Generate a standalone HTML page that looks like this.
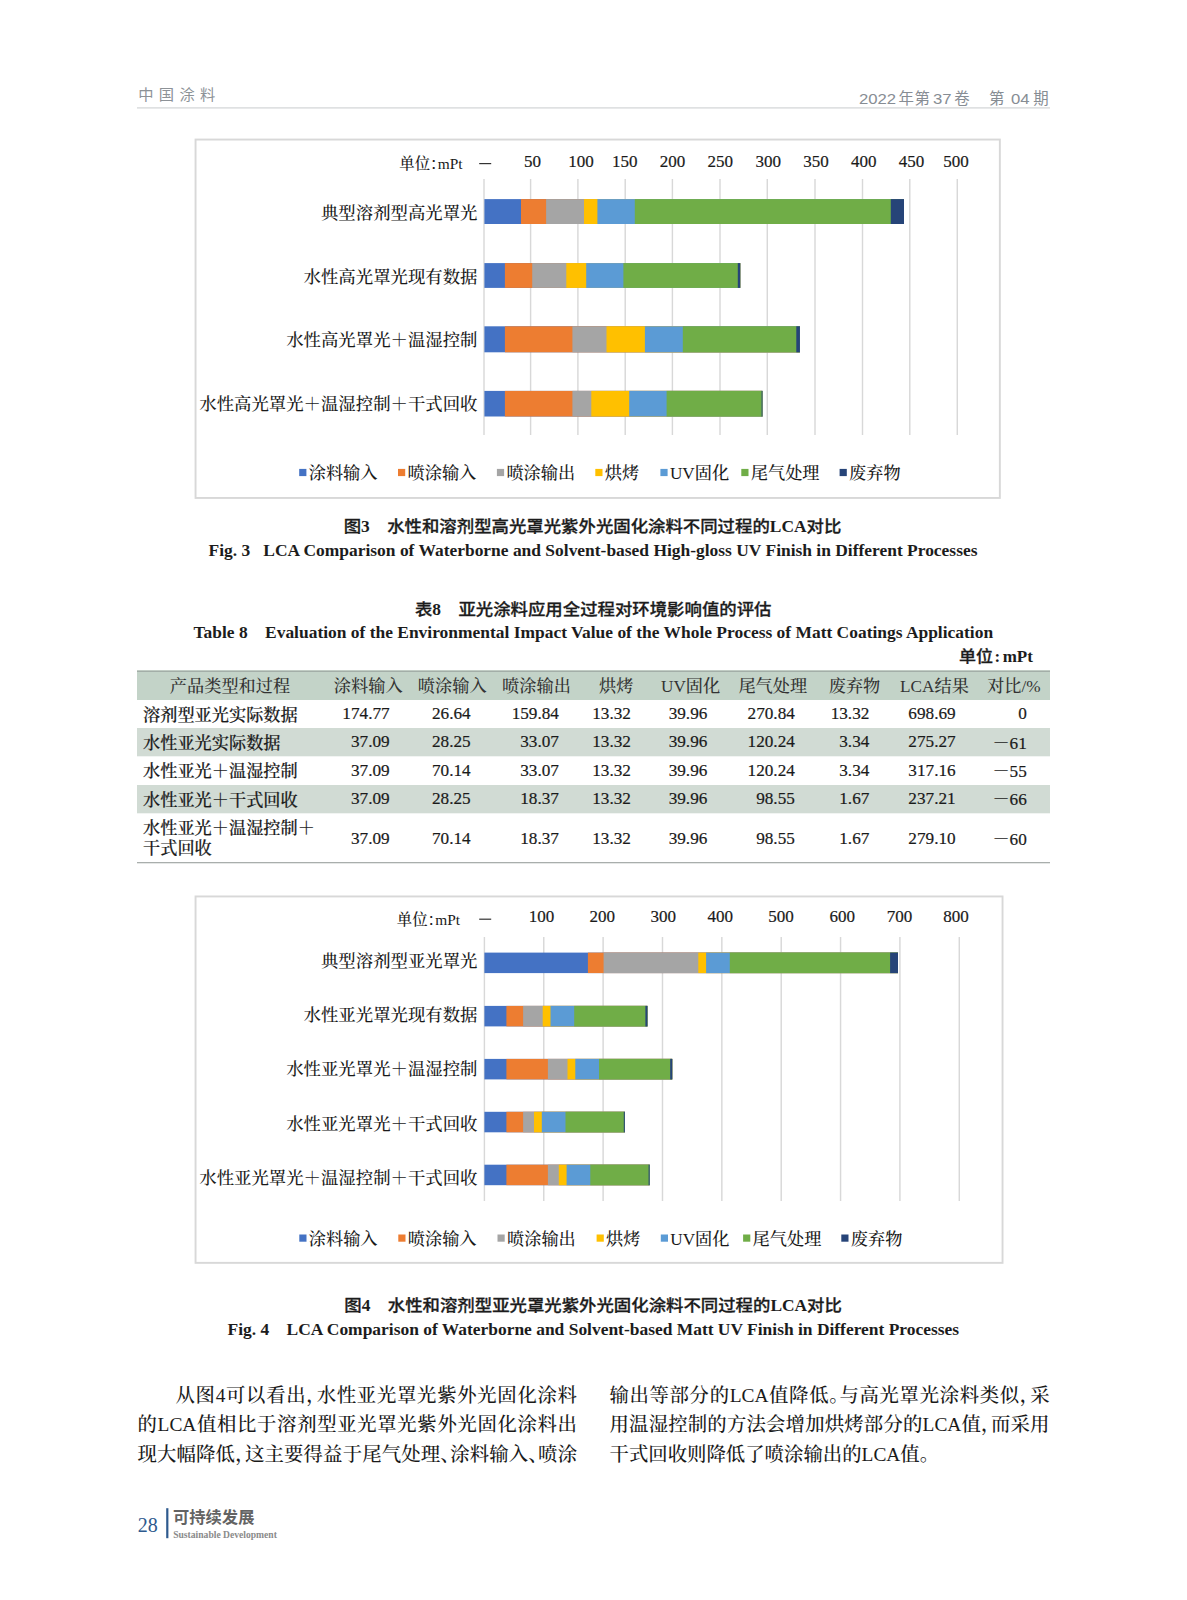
<!DOCTYPE html>
<html lang="zh-CN">
<head>
<meta charset="utf-8">
<title>中国涂料 2022年第37卷 第04期</title>
<style>
*{margin:0;padding:0;box-sizing:border-box}
html,body{width:1187px;height:1600px;background:#fff;overflow:hidden}
body{position:relative;font-family:"Liberation Serif","Noto Serif CJK SC",serif;color:#1a1a1a}
.gfx{position:absolute;left:0;top:0}
.t{position:absolute;white-space:nowrap;line-height:1}
.b{position:absolute}
.sans{font-family:"Liberation Sans","Noto Sans CJK SC",sans-serif}
.cap-cn{font-family:"Liberation Serif","Noto Sans CJK SC",sans-serif;font-weight:700;font-size:17.4px;color:#1c1c1c}
.cap-en{font-family:"Liberation Serif",serif;font-weight:700;font-size:17.44px;color:#1c1c1c}
.cj{display:inline-block;font-weight:500;-webkit-text-stroke:.3px #1c1c1c;transform:scaleY(.93);transform-origin:50% 55%}
.lab{font-size:17.4px;font-weight:500;color:#1a1a1a}
.ax{font-size:17px;color:#1a1a1a;-webkit-text-stroke:.2px #1a1a1a;font-family:"Liberation Serif",serif}
.lg{font-size:17.2px;font-weight:500;color:#1a1a1a}
.td{font-size:17.2px;font-weight:500;color:#1a1a1a;-webkit-text-stroke:.2px #1a1a1a}
.th{font-size:17.2px;font-weight:500;color:#333}
.body{font-size:19.4px;color:#1a1a1a;font-weight:500}
.hp{font-feature-settings:"halt" 1}
.just{text-align:justify;text-align-last:justify;white-space:normal}
</style>
</head>
<body>
<svg class="gfx" width="1187" height="1600" viewBox="0 0 1187 1600">
<rect x="137" y="107.3" width="913" height="1.2" fill="#d2d4d6"/>
<rect x="195.55" y="139.55" width="804.3" height="358.4" fill="none" stroke="#d8d8d8" stroke-width="1.9"/>
<rect x="483.28" y="179" width="1.44" height="256" fill="#d8d8d8"/>
<rect x="529.88" y="179" width="1.44" height="256" fill="#d8d8d8"/>
<rect x="577.18" y="179" width="1.44" height="256" fill="#d8d8d8"/>
<rect x="624.48" y="179" width="1.44" height="256" fill="#d8d8d8"/>
<rect x="671.68" y="179" width="1.44" height="256" fill="#d8d8d8"/>
<rect x="719.28" y="179" width="1.44" height="256" fill="#d8d8d8"/>
<rect x="766.58" y="179" width="1.44" height="256" fill="#d8d8d8"/>
<rect x="814.28" y="179" width="1.44" height="256" fill="#d8d8d8"/>
<rect x="861.78" y="179" width="1.44" height="256" fill="#d8d8d8"/>
<rect x="909.08" y="179" width="1.44" height="256" fill="#d8d8d8"/>
<rect x="956.58" y="179" width="1.44" height="256" fill="#d8d8d8"/>
<rect x="479.2" y="163" width="12" height="1.2" fill="#333"/>
<rect x="484.4" y="199.1" width="419.6" height="24.9" fill="#4472c4"/>
<rect x="521" y="199.1" width="383" height="24.9" fill="#ed7d31"/>
<rect x="546.1" y="199.1" width="357.9" height="24.9" fill="#a5a5a5"/>
<rect x="584" y="199.1" width="320" height="24.9" fill="#ffc000"/>
<rect x="597.4" y="199.1" width="306.6" height="24.9" fill="#5b9bd5"/>
<rect x="634.8" y="199.1" width="269.2" height="24.9" fill="#70ad47"/>
<rect x="890.8" y="199.1" width="13.2" height="24.9" fill="#264478"/>
<rect x="484.4" y="263.1" width="255.8" height="24.8" fill="#4472c4"/>
<rect x="504.9" y="263.1" width="235.3" height="24.8" fill="#ed7d31"/>
<rect x="532.2" y="263.1" width="208" height="24.8" fill="#a5a5a5"/>
<rect x="566.3" y="263.1" width="173.9" height="24.8" fill="#ffc000"/>
<rect x="586.2" y="263.1" width="154" height="24.8" fill="#5b9bd5"/>
<rect x="623.4" y="263.1" width="116.8" height="24.8" fill="#70ad47"/>
<rect x="737.8" y="263.1" width="2.4" height="24.8" fill="#264478"/>
<rect x="484.4" y="326.3" width="315.5" height="26" fill="#4472c4"/>
<rect x="504.9" y="326.3" width="295" height="26" fill="#ed7d31"/>
<rect x="572.4" y="326.3" width="227.5" height="26" fill="#a5a5a5"/>
<rect x="606.5" y="326.3" width="193.4" height="26" fill="#ffc000"/>
<rect x="644.9" y="326.3" width="155" height="26" fill="#5b9bd5"/>
<rect x="682.8" y="326.3" width="117.1" height="26" fill="#70ad47"/>
<rect x="796.3" y="326.3" width="3.6" height="26" fill="#264478"/>
<rect x="484.4" y="390.9" width="278" height="25.6" fill="#4472c4"/>
<rect x="504.9" y="390.9" width="257.5" height="25.6" fill="#ed7d31"/>
<rect x="572.4" y="390.9" width="190" height="25.6" fill="#a5a5a5"/>
<rect x="591.3" y="390.9" width="171.1" height="25.6" fill="#ffc000"/>
<rect x="629.2" y="390.9" width="133.2" height="25.6" fill="#5b9bd5"/>
<rect x="666.6" y="390.9" width="95.8" height="25.6" fill="#70ad47"/>
<rect x="761.6" y="390.9" width="0.8" height="25.6" fill="#264478"/>
<rect x="299.2" y="468.9" width="7.2" height="7.2" fill="#4472c4"/>
<rect x="398" y="468.9" width="7.2" height="7.2" fill="#ed7d31"/>
<rect x="496.9" y="468.9" width="7.2" height="7.2" fill="#a5a5a5"/>
<rect x="595.3" y="468.9" width="7.2" height="7.2" fill="#ffc000"/>
<rect x="660.4" y="468.9" width="7.2" height="7.2" fill="#5b9bd5"/>
<rect x="741.3" y="468.9" width="7.2" height="7.2" fill="#70ad47"/>
<rect x="839.6" y="468.9" width="7.2" height="7.2" fill="#264478"/>
<rect x="137" y="670.3" width="913" height="29.7" fill="#c3d3c8"/>
<rect x="137" y="670.6" width="913" height="1.4" fill="#a3aea8"/>
<rect x="137" y="728" width="913" height="28.3" fill="#d1dbd4"/>
<rect x="137" y="785" width="913" height="28.3" fill="#d1dbd4"/>
<rect x="137" y="862" width="913" height="1.3" fill="#a9aeac"/>
<rect x="195.55" y="896.45" width="807" height="366.4" fill="none" stroke="#d8d8d8" stroke-width="1.9"/>
<rect x="483.68" y="937" width="1.44" height="264" fill="#d8d8d8"/>
<rect x="543.04" y="937" width="1.44" height="264" fill="#d8d8d8"/>
<rect x="602.4" y="937" width="1.44" height="264" fill="#d8d8d8"/>
<rect x="661.76" y="937" width="1.44" height="264" fill="#d8d8d8"/>
<rect x="721.12" y="937" width="1.44" height="264" fill="#d8d8d8"/>
<rect x="780.48" y="937" width="1.44" height="264" fill="#d8d8d8"/>
<rect x="839.84" y="937" width="1.44" height="264" fill="#d8d8d8"/>
<rect x="899.2" y="937" width="1.44" height="264" fill="#d8d8d8"/>
<rect x="958.56" y="937" width="1.44" height="264" fill="#d8d8d8"/>
<rect x="479.2" y="918.6" width="12" height="1.2" fill="#333"/>
<rect x="484.4" y="952.6" width="413.6" height="20.5" fill="#4472c4"/>
<rect x="587.9" y="952.6" width="310.1" height="20.5" fill="#ed7d31"/>
<rect x="603.6" y="952.6" width="294.4" height="20.5" fill="#a5a5a5"/>
<rect x="698.3" y="952.6" width="199.7" height="20.5" fill="#ffc000"/>
<rect x="706.1" y="952.6" width="191.9" height="20.5" fill="#5b9bd5"/>
<rect x="729.8" y="952.6" width="168.2" height="20.5" fill="#70ad47"/>
<rect x="890.1" y="952.6" width="7.9" height="20.5" fill="#264478"/>
<rect x="484.4" y="1005.9" width="163" height="20.5" fill="#4472c4"/>
<rect x="506.4" y="1005.9" width="141" height="20.5" fill="#ed7d31"/>
<rect x="523.1" y="1005.9" width="124.3" height="20.5" fill="#a5a5a5"/>
<rect x="542.7" y="1005.9" width="104.7" height="20.5" fill="#ffc000"/>
<rect x="550.5" y="1005.9" width="96.9" height="20.5" fill="#5b9bd5"/>
<rect x="574.2" y="1005.9" width="73.2" height="20.5" fill="#70ad47"/>
<rect x="645.4" y="1005.9" width="2" height="20.5" fill="#264478"/>
<rect x="484.4" y="1058.9" width="187.8" height="20.5" fill="#4472c4"/>
<rect x="506.4" y="1058.9" width="165.8" height="20.5" fill="#ed7d31"/>
<rect x="547.9" y="1058.9" width="124.3" height="20.5" fill="#a5a5a5"/>
<rect x="567.5" y="1058.9" width="104.7" height="20.5" fill="#ffc000"/>
<rect x="575.3" y="1058.9" width="96.9" height="20.5" fill="#5b9bd5"/>
<rect x="599" y="1058.9" width="73.2" height="20.5" fill="#70ad47"/>
<rect x="670.2" y="1058.9" width="2" height="20.5" fill="#264478"/>
<rect x="484.4" y="1111.8" width="140.4" height="20.5" fill="#4472c4"/>
<rect x="506.4" y="1111.8" width="118.4" height="20.5" fill="#ed7d31"/>
<rect x="523.1" y="1111.8" width="101.7" height="20.5" fill="#a5a5a5"/>
<rect x="534" y="1111.8" width="90.8" height="20.5" fill="#ffc000"/>
<rect x="541.8" y="1111.8" width="83" height="20.5" fill="#5b9bd5"/>
<rect x="565.5" y="1111.8" width="59.3" height="20.5" fill="#70ad47"/>
<rect x="623.8" y="1111.8" width="1" height="20.5" fill="#264478"/>
<rect x="484.4" y="1164.7" width="165.2" height="20.5" fill="#4472c4"/>
<rect x="506.4" y="1164.7" width="143.2" height="20.5" fill="#ed7d31"/>
<rect x="547.9" y="1164.7" width="101.7" height="20.5" fill="#a5a5a5"/>
<rect x="558.8" y="1164.7" width="90.8" height="20.5" fill="#ffc000"/>
<rect x="566.6" y="1164.7" width="83" height="20.5" fill="#5b9bd5"/>
<rect x="590.3" y="1164.7" width="59.3" height="20.5" fill="#70ad47"/>
<rect x="648.6" y="1164.7" width="1" height="20.5" fill="#264478"/>
<rect x="299.3" y="1234.5" width="7.2" height="7.2" fill="#4472c4"/>
<rect x="398.3" y="1234.5" width="7.2" height="7.2" fill="#ed7d31"/>
<rect x="497.5" y="1234.5" width="7.2" height="7.2" fill="#a5a5a5"/>
<rect x="596.6" y="1234.5" width="7.2" height="7.2" fill="#ffc000"/>
<rect x="660.8" y="1234.5" width="7.2" height="7.2" fill="#5b9bd5"/>
<rect x="743.1" y="1234.5" width="7.2" height="7.2" fill="#70ad47"/>
<rect x="841.3" y="1234.5" width="7.2" height="7.2" fill="#264478"/>
<rect x="166.2" y="1508.2" width="2.2" height="30" fill="#2e5a8e"/>
</svg>
<div class="t sans" style="font-size:15.3px;line-height:30px;height:30px;top:80.4px;left:138.2px;letter-spacing:5.3px;color:#8d9297;">中国涂料</div>
<div class="t sans" style="font-size:15.2px;line-height:30px;height:30px;top:83.5px;left:859.2px;color:#878d94;transform:scaleX(1.1);transform-origin:0 50%;">2022</div>
<div class="t sans" style="font-size:15.4px;line-height:30px;height:30px;top:83.5px;left:898.6px;color:#878d94;">年</div>
<div class="t sans" style="font-size:15.4px;line-height:30px;height:30px;top:83.5px;left:914.4px;color:#878d94;">第</div>
<div class="t sans" style="font-size:15.2px;line-height:30px;height:30px;top:83.5px;left:933px;color:#878d94;transform:scaleX(1.1);transform-origin:0 50%;">37</div>
<div class="t sans" style="font-size:15.4px;line-height:30px;height:30px;top:83.5px;left:954.2px;color:#878d94;">卷</div>
<div class="t sans" style="font-size:15.4px;line-height:30px;height:30px;top:83.5px;left:988.9px;color:#878d94;">第</div>
<div class="t sans" style="font-size:15.2px;line-height:30px;height:30px;top:83.5px;left:1010.7px;color:#878d94;transform:scaleX(1.1);transform-origin:0 50%;">04</div>
<div class="t sans" style="font-size:15.4px;line-height:30px;height:30px;top:83.5px;left:1033.3px;color:#878d94;">期</div>
<div class="t ax" style="line-height:30px;height:30px;top:146.5px;left:32.5px;width:1000px;text-align:center;">50</div>
<div class="t ax" style="line-height:30px;height:30px;top:146.5px;left:81px;width:1000px;text-align:center;">100</div>
<div class="t ax" style="line-height:30px;height:30px;top:146.5px;left:124.8px;width:1000px;text-align:center;">150</div>
<div class="t ax" style="line-height:30px;height:30px;top:146.5px;left:172.4px;width:1000px;text-align:center;">200</div>
<div class="t ax" style="line-height:30px;height:30px;top:146.5px;left:220.2px;width:1000px;text-align:center;">250</div>
<div class="t ax" style="line-height:30px;height:30px;top:146.5px;left:268.3px;width:1000px;text-align:center;">300</div>
<div class="t ax" style="line-height:30px;height:30px;top:146.5px;left:316px;width:1000px;text-align:center;">350</div>
<div class="t ax" style="line-height:30px;height:30px;top:146.5px;left:363.8px;width:1000px;text-align:center;">400</div>
<div class="t ax" style="line-height:30px;height:30px;top:146.5px;left:411.6px;width:1000px;text-align:center;">450</div>
<div class="t ax" style="line-height:30px;height:30px;top:146.5px;left:455.9px;width:1000px;text-align:center;">500</div>
<div class="t " style="font-size:15.4px;line-height:30px;height:30px;top:148.5px;left:399.3px;font-weight:500;"> 单位<span class="hp">：</span>mPt</div>
<div class="t lab" style="line-height:30px;height:30px;top:198px;right:709.5px;text-align:right;">典型溶剂型高光罩光</div>
<div class="t lab" style="line-height:30px;height:30px;top:261.6px;right:709.5px;text-align:right;">水性高光罩光现有数据</div>
<div class="t lab" style="line-height:30px;height:30px;top:325.2px;right:709.5px;text-align:right;">水性高光罩光＋温湿控制</div>
<div class="t lab" style="line-height:30px;height:30px;top:389.4px;right:709.5px;text-align:right;">水性高光罩光＋温湿控制＋干式回收</div>
<div class="t lg" style="line-height:30px;height:30px;top:459px;left:308.7px;">涂料输入</div>
<div class="t lg" style="line-height:30px;height:30px;top:459px;left:407.5px;">喷涂输入</div>
<div class="t lg" style="line-height:30px;height:30px;top:459px;left:506.4px;">喷涂输出</div>
<div class="t lg" style="line-height:30px;height:30px;top:459px;left:604.8px;">烘烤</div>
<div class="t lg" style="line-height:30px;height:30px;top:459px;left:669.9px;">UV固化</div>
<div class="t lg" style="line-height:30px;height:30px;top:459px;left:750.8px;">尾气处理</div>
<div class="t lg" style="line-height:30px;height:30px;top:459px;left:849.1px;">废弃物</div>
<div class="t cap-cn" style="line-height:30px;height:30px;top:511.3px;left:92.5px;width:1000px;text-align:center;"><span class="cj">图</span>3&emsp;<span class="cj">水性和溶剂型高光罩光紫外光固化涂料不同过程的</span>LCA<span class="cj">对比</span></div>
<div class="t cap-en" style="line-height:30px;height:30px;top:534.7px;left:93px;width:1000px;text-align:center;">Fig. 3&nbsp;&nbsp;&nbsp;LCA Comparison of Waterborne and Solvent-based High-gloss UV Finish in Different Processes</div>
<div class="t cap-cn" style="line-height:30px;height:30px;top:593.5px;left:93.2px;width:1000px;text-align:center;"><span class="cj">表</span>8&emsp;<span class="cj">亚光涂料应用全过程对环境影响值的评估</span></div>
<div class="t cap-en" style="line-height:30px;height:30px;top:617.2px;left:93.3px;width:1000px;text-align:center;">Table 8&nbsp;&nbsp;&nbsp;&nbsp;Evaluation of the Environmental Impact Value of the Whole Process of Matt Coatings Application</div>
<div class="t cap-cn" style="font-size:17px;line-height:30px;height:30px;top:642px;right:154.1px;text-align:right;"><span class="cj">单位</span><span style="margin:0 2.5px 0 1.5px">:</span>mPt</div>
<div class="t th" style="line-height:30px;height:30px;top:671.8px;left:-270px;width:1000px;text-align:center;">产品类型和过程</div>
<div class="t th" style="line-height:30px;height:30px;top:671.8px;left:-131.8px;width:1000px;text-align:center;">涂料输入</div>
<div class="t th" style="line-height:30px;height:30px;top:671.8px;left:-47.8px;width:1000px;text-align:center;">喷涂输入</div>
<div class="t th" style="line-height:30px;height:30px;top:671.8px;left:36.5px;width:1000px;text-align:center;">喷涂输出</div>
<div class="t th" style="line-height:30px;height:30px;top:671.8px;left:116.2px;width:1000px;text-align:center;">烘烤</div>
<div class="t th" style="line-height:30px;height:30px;top:671.8px;left:190.6px;width:1000px;text-align:center;">UV固化</div>
<div class="t th" style="line-height:30px;height:30px;top:671.8px;left:272.8px;width:1000px;text-align:center;">尾气处理</div>
<div class="t th" style="line-height:30px;height:30px;top:671.8px;left:354.5px;width:1000px;text-align:center;">废弃物</div>
<div class="t th" style="line-height:30px;height:30px;top:671.8px;left:434.5px;width:1000px;text-align:center;">LCA结果</div>
<div class="t th" style="line-height:30px;height:30px;top:671.8px;left:513.9px;width:1000px;text-align:center;">对比/%</div>
<div class="t td" style="line-height:30px;height:30px;top:700.7px;left:143px;">溶剂型亚光实际数据</div>
<div class="t td" style="line-height:30px;height:30px;top:699px;right:797.4px;text-align:right;">174.77</div>
<div class="t td" style="line-height:30px;height:30px;top:699px;right:716.4px;text-align:right;">26.64</div>
<div class="t td" style="line-height:30px;height:30px;top:699px;right:628.1px;text-align:right;">159.84</div>
<div class="t td" style="line-height:30px;height:30px;top:699px;right:556.1px;text-align:right;">13.32</div>
<div class="t td" style="line-height:30px;height:30px;top:699px;right:479.7px;text-align:right;">39.96</div>
<div class="t td" style="line-height:30px;height:30px;top:699px;right:392.2px;text-align:right;">270.84</div>
<div class="t td" style="line-height:30px;height:30px;top:699px;right:317.7px;text-align:right;">13.32</div>
<div class="t td" style="line-height:30px;height:30px;top:699px;right:231.4px;text-align:right;">698.69</div>
<div class="t td" style="line-height:30px;height:30px;top:699px;right:160.2px;text-align:right;">0</div>
<div class="t td" style="line-height:30px;height:30px;top:729px;left:143px;">水性亚光实际数据</div>
<div class="t td" style="line-height:30px;height:30px;top:727.3px;right:797.4px;text-align:right;">37.09</div>
<div class="t td" style="line-height:30px;height:30px;top:727.3px;right:716.4px;text-align:right;">28.25</div>
<div class="t td" style="line-height:30px;height:30px;top:727.3px;right:628.1px;text-align:right;">33.07</div>
<div class="t td" style="line-height:30px;height:30px;top:727.3px;right:556.1px;text-align:right;">13.32</div>
<div class="t td" style="line-height:30px;height:30px;top:727.3px;right:479.7px;text-align:right;">39.96</div>
<div class="t td" style="line-height:30px;height:30px;top:727.3px;right:392.2px;text-align:right;">120.24</div>
<div class="t td" style="line-height:30px;height:30px;top:727.3px;right:317.7px;text-align:right;">3.34</div>
<div class="t td" style="line-height:30px;height:30px;top:727.3px;right:231.4px;text-align:right;">275.27</div>
<div class="t td" style="line-height:30px;height:30px;top:728.5px;right:160.2px;text-align:right;">－61</div>
<div class="t td" style="line-height:30px;height:30px;top:757.3px;left:143px;">水性亚光＋温湿控制</div>
<div class="t td" style="line-height:30px;height:30px;top:755.6px;right:797.4px;text-align:right;">37.09</div>
<div class="t td" style="line-height:30px;height:30px;top:755.6px;right:716.4px;text-align:right;">70.14</div>
<div class="t td" style="line-height:30px;height:30px;top:755.6px;right:628.1px;text-align:right;">33.07</div>
<div class="t td" style="line-height:30px;height:30px;top:755.6px;right:556.1px;text-align:right;">13.32</div>
<div class="t td" style="line-height:30px;height:30px;top:755.6px;right:479.7px;text-align:right;">39.96</div>
<div class="t td" style="line-height:30px;height:30px;top:755.6px;right:392.2px;text-align:right;">120.24</div>
<div class="t td" style="line-height:30px;height:30px;top:755.6px;right:317.7px;text-align:right;">3.34</div>
<div class="t td" style="line-height:30px;height:30px;top:755.6px;right:231.4px;text-align:right;">317.16</div>
<div class="t td" style="line-height:30px;height:30px;top:756.8px;right:160.2px;text-align:right;">－55</div>
<div class="t td" style="line-height:30px;height:30px;top:785.9px;left:143px;">水性亚光＋干式回收</div>
<div class="t td" style="line-height:30px;height:30px;top:784.2px;right:797.4px;text-align:right;">37.09</div>
<div class="t td" style="line-height:30px;height:30px;top:784.2px;right:716.4px;text-align:right;">28.25</div>
<div class="t td" style="line-height:30px;height:30px;top:784.2px;right:628.1px;text-align:right;">18.37</div>
<div class="t td" style="line-height:30px;height:30px;top:784.2px;right:556.1px;text-align:right;">13.32</div>
<div class="t td" style="line-height:30px;height:30px;top:784.2px;right:479.7px;text-align:right;">39.96</div>
<div class="t td" style="line-height:30px;height:30px;top:784.2px;right:392.2px;text-align:right;">98.55</div>
<div class="t td" style="line-height:30px;height:30px;top:784.2px;right:317.7px;text-align:right;">1.67</div>
<div class="t td" style="line-height:30px;height:30px;top:784.2px;right:231.4px;text-align:right;">237.21</div>
<div class="t td" style="line-height:30px;height:30px;top:785.4px;right:160.2px;text-align:right;">－66</div>
<div class="t td" style="line-height:30px;height:30px;top:823.5px;right:797.4px;text-align:right;">37.09</div>
<div class="t td" style="line-height:30px;height:30px;top:823.5px;right:716.4px;text-align:right;">70.14</div>
<div class="t td" style="line-height:30px;height:30px;top:823.5px;right:628.1px;text-align:right;">18.37</div>
<div class="t td" style="line-height:30px;height:30px;top:823.5px;right:556.1px;text-align:right;">13.32</div>
<div class="t td" style="line-height:30px;height:30px;top:823.5px;right:479.7px;text-align:right;">39.96</div>
<div class="t td" style="line-height:30px;height:30px;top:823.5px;right:392.2px;text-align:right;">98.55</div>
<div class="t td" style="line-height:30px;height:30px;top:823.5px;right:317.7px;text-align:right;">1.67</div>
<div class="t td" style="line-height:30px;height:30px;top:823.5px;right:231.4px;text-align:right;">279.10</div>
<div class="t td" style="line-height:30px;height:30px;top:824.7px;right:160.2px;text-align:right;">－60</div>
<div class="t td" style="line-height:30px;height:30px;top:814px;left:143px;">水性亚光＋温湿控制＋</div>
<div class="t td" style="line-height:30px;height:30px;top:834.3px;left:143px;">干式回收</div>
<div class="t ax" style="line-height:30px;height:30px;top:901.8px;left:41.4px;width:1000px;text-align:center;">100</div>
<div class="t ax" style="line-height:30px;height:30px;top:901.8px;left:102.3px;width:1000px;text-align:center;">200</div>
<div class="t ax" style="line-height:30px;height:30px;top:901.8px;left:163.3px;width:1000px;text-align:center;">300</div>
<div class="t ax" style="line-height:30px;height:30px;top:901.8px;left:220.2px;width:1000px;text-align:center;">400</div>
<div class="t ax" style="line-height:30px;height:30px;top:901.8px;left:281px;width:1000px;text-align:center;">500</div>
<div class="t ax" style="line-height:30px;height:30px;top:901.8px;left:342.3px;width:1000px;text-align:center;">600</div>
<div class="t ax" style="line-height:30px;height:30px;top:901.8px;left:399.4px;width:1000px;text-align:center;">700</div>
<div class="t ax" style="line-height:30px;height:30px;top:901.8px;left:455.9px;width:1000px;text-align:center;">800</div>
<div class="t " style="font-size:15.4px;line-height:30px;height:30px;top:904.5px;left:396.8px;font-weight:500;">单位<span class="hp">：</span>mPt</div>
<div class="t lab" style="line-height:30px;height:30px;top:946px;right:709.5px;text-align:right;">典型溶剂型亚光罩光</div>
<div class="t lab" style="line-height:30px;height:30px;top:999.7px;right:709.5px;text-align:right;">水性亚光罩光现有数据</div>
<div class="t lab" style="line-height:30px;height:30px;top:1054.2px;right:709.5px;text-align:right;">水性亚光罩光＋温湿控制</div>
<div class="t lab" style="line-height:30px;height:30px;top:1109.4px;right:709.5px;text-align:right;">水性亚光罩光＋干式回收</div>
<div class="t lab" style="line-height:30px;height:30px;top:1163.1px;right:709.5px;text-align:right;">水性亚光罩光＋温湿控制＋干式回收</div>
<div class="t lg" style="line-height:30px;height:30px;top:1224.6px;left:308.8px;">涂料输入</div>
<div class="t lg" style="line-height:30px;height:30px;top:1224.6px;left:407.8px;">喷涂输入</div>
<div class="t lg" style="line-height:30px;height:30px;top:1224.6px;left:507px;">喷涂输出</div>
<div class="t lg" style="line-height:30px;height:30px;top:1224.6px;left:606.1px;">烘烤</div>
<div class="t lg" style="line-height:30px;height:30px;top:1224.6px;left:670.3px;">UV固化</div>
<div class="t lg" style="line-height:30px;height:30px;top:1224.6px;left:752.6px;">尾气处理</div>
<div class="t lg" style="line-height:30px;height:30px;top:1224.6px;left:850.8px;">废弃物</div>
<div class="t cap-cn" style="line-height:30px;height:30px;top:1289.7px;left:93.1px;width:1000px;text-align:center;"><span class="cj">图</span>4&emsp;<span class="cj">水性和溶剂型亚光罩光紫外光固化涂料不同过程的</span>LCA<span class="cj">对比</span></div>
<div class="t cap-en" style="line-height:30px;height:30px;top:1314px;left:93.3px;width:1000px;text-align:center;">Fig. 4&nbsp;&nbsp;&nbsp;&nbsp;LCA Comparison of Waterborne and Solvent-based Matt UV Finish in Different Processes</div>
<div class="t body just" style="left:175.5px;width:401.5px;line-height:30px;height:30px;top:1380.5px;">从图4可以看出<span class="hp">，</span>水性亚光罩光紫外光固化涂料</div>
<div class="t body just" style="left:137.5px;width:439.5px;line-height:30px;height:30px;top:1410px;">的LCA值相比于溶剂型亚光罩光紫外光固化涂料出</div>
<div class="t body just" style="left:137.5px;width:439.5px;line-height:30px;height:30px;top:1439.5px;">现大幅降低<span class="hp">，</span>这主要得益于尾气处理<span class="hp">、</span>涂料输入<span class="hp">、</span>喷涂</div>
<div class="t body just" style="left:609.5px;width:440px;line-height:30px;height:30px;top:1380.5px;">输出等部分的LCA值降低<span class="hp">。</span>与高光罩光涂料类似<span class="hp">，</span>采</div>
<div class="t body just" style="left:609.5px;width:440px;line-height:30px;height:30px;top:1410px;">用温湿控制的方法会增加烘烤部分的LCA值<span class="hp">，</span>而采用</div>
<div class="t body" style="left:609.5px;width:440px;line-height:30px;height:30px;top:1439.5px;">干式回收则降低了喷涂输出的LCA值<span class="hp">。</span></div>
<div class="t " style="font-size:20px;line-height:30px;height:30px;top:1509.5px;left:137.7px;color:#2e5a8e;">28</div>
<div class="t sans" style="font-size:16.3px;line-height:30px;height:30px;top:1501.8px;left:173px;font-weight:700;color:#636363;">可持续发展</div>
<div class="t " style="font-size:9.6px;line-height:30px;height:30px;top:1519.8px;left:173.2px;font-weight:700;color:#8a8a8a;font-family:&quot;Liberation Serif&quot;,serif;">Sustainable Development</div>
</body>
</html>
